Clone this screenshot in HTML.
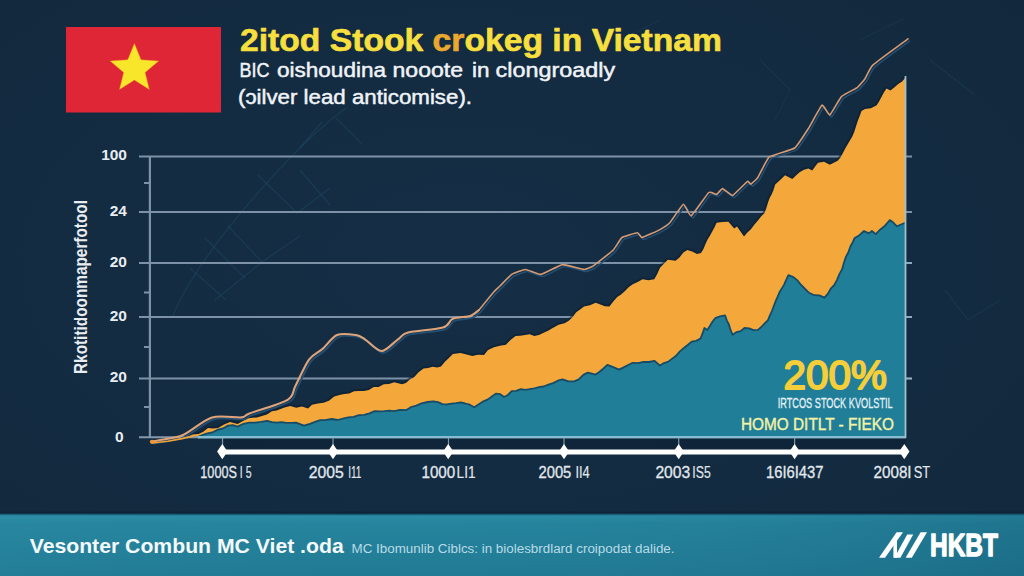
<!DOCTYPE html>
<html>
<head>
<meta charset="utf-8">
<title>Stock growth in Vietnam</title>
<style>
  html, body { margin: 0; padding: 0; }
  body { width: 1024px; height: 576px; overflow: hidden; background: #132a3f; font-family: "Liberation Sans", sans-serif; }
  svg { display: block; position: absolute; left: 0; top: 0; }
  text { font-family: "Liberation Sans", sans-serif; }
</style>
</head>
<body>
<svg width="1024" height="576" viewBox="0 0 1024 576">
  <defs>
    <radialGradient id="bg" cx="45%" cy="45%" r="80%">
      <stop offset="0" stop-color="#152e45"/>
      <stop offset="0.6" stop-color="#132b40"/>
      <stop offset="1" stop-color="#12283c"/>
    </radialGradient>
    <linearGradient id="bandH" x1="0" y1="0" x2="1" y2="0">
      <stop offset="0" stop-color="#3aa0b8" stop-opacity="0.10"/>
      <stop offset="0.35" stop-color="#2b8ba3" stop-opacity="0"/>
      <stop offset="1" stop-color="#0f4f6a" stop-opacity="0.30"/>
    </linearGradient>
    <linearGradient id="bandEdge" x1="0" y1="0" x2="0" y2="1">
      <stop offset="0" stop-color="#0d2135" stop-opacity="0"/>
      <stop offset="0.45" stop-color="#0d2135" stop-opacity="0.9"/>
      <stop offset="0.7" stop-color="#185570"/>
      <stop offset="1" stop-color="#2a8da6"/>
    </linearGradient>
    <linearGradient id="band" x1="0" y1="0" x2="0" y2="1">
      <stop offset="0" stop-color="#2a8da6"/>
      <stop offset="0.12" stop-color="#26849d"/>
      <stop offset="1" stop-color="#217a94"/>
    </linearGradient>
  </defs>

  <!-- background -->
  <rect x="0" y="0" width="1024" height="576" fill="url(#bg)"/>

  <!-- faint background texture -->
  <g id="texture" fill="none" stroke="#245a78" stroke-opacity="0.3" stroke-width="1.3">
    <path d="M172,318 C190,272 240,210 290,158 C310,137 330,120 346,108"/>
    <path d="M300,148 L322,122 M336,118 L362,144"/>
    <path d="M258,175 L296,212 M300,170 L330,205 M330,188 L296,214"/>
    <path d="M205,238 L245,278 M228,226 L262,262 M262,262 L300,236"/>
    <path d="M190,268 L226,300 M215,300 L262,262"/>
    <path d="M860,40 L905,18 M930,60 L975,95 M945,290 L968,320 L1000,300" stroke-opacity="0.22"/>
    <path d="M760,60 L790,90 L775,120 M620,40 L660,20" stroke-opacity="0.18"/>
  </g>

  <!-- flag -->
  <g id="flag">
    <rect x="66" y="27" width="155" height="85.5" fill="#df2637"/>
    <polygon id="star" stroke="#f0a020" stroke-opacity="0.5" stroke-width="0.8" fill="#f8e62a" points="134.4,43.5 141.0,59.8 158.6,61.1 145.1,72.4 149.3,89.4 134.4,80.1 119.5,89.4 123.7,72.4 110.2,61.1 127.8,59.8"/>
  </g>

  <!-- grid -->
  <g id="grid" stroke="#7d92a6" stroke-width="2" fill="none">
    <line x1="139" y1="156.5" x2="912" y2="156.5"/>
    <line x1="139" y1="212" x2="912" y2="212"/>
    <line x1="139" y1="263" x2="912" y2="263"/>
    <line x1="139" y1="317" x2="912" y2="317"/>
    <line x1="139" y1="378.5" x2="912" y2="378.5"/>
    <line x1="149.9" y1="156" x2="149.9" y2="438" stroke-width="2.2"/>
    <line x1="144" y1="183" x2="150" y2="183"/>
    <line x1="144" y1="292.5" x2="150" y2="292.5"/>
    <line x1="144" y1="347" x2="150" y2="347"/>
    <line x1="144" y1="407" x2="150" y2="407"/>
  </g>

  <!-- orange area -->
  <path id="orangeEdge" fill="none" stroke="#0d1e30" stroke-opacity="0.55" stroke-width="4" stroke-linejoin="round" d="M187.0,437.0 L192.8,434.6 L198.6,434.0 L203.3,431.8 L208.0,428.0 L213.0,428.6 L218.0,428.0 L224.0,424.4 L230.0,422.0 L237.6,424.0 L242.5,421.2 L247.4,418.4 L252.2,417.8 L257.0,417.4 L261.9,416.0 L266.9,414.6 L271.8,411.3 L276.7,410.5 L284.5,407.6 L290.3,406.1 L296.2,407.7 L302.0,406.6 L308.0,408.6 L312.0,404.7 L317.8,403.5 L323.6,402.7 L328.9,400.8 L334.2,396.4 L339.5,395.0 L344.4,393.9 L349.2,393.5 L354.1,391.3 L359.0,391.0 L363.9,391.1 L368.8,390.0 L373.7,386.9 L378.6,387.0 L383.8,384.3 L389.0,384.0 L394.2,382.3 L402.0,384.2 L405.9,383.0 L409.8,379.4 L413.8,377.4 L418.6,372.3 L423.5,368.6 L428.1,368.1 L432.6,366.8 L437.2,367.6 L441.0,366.6 L444.9,361.7 L448.9,358.1 L452.8,354.0 L460.6,353.0 L466.5,354.4 L472.3,355.9 L478.1,354.8 L484.0,354.9 L488.0,350.0 L494.0,347.2 L500.0,345.7 L505.9,344.7 L510.8,339.7 L515.6,336.0 L520.3,335.7 L525.0,335.1 L529.6,334.3 L534.3,336.0 L539.0,335.0 L543.6,332.8 L548.1,330.7 L552.7,328.0 L558.6,324.8 L564.5,323.2 L568.4,321.1 L572.3,317.4 L576.2,312.3 L580.1,309.5 L584.0,306.6 L589.9,305.2 L595.7,302.7 L600.3,304.5 L604.8,306.3 L609.4,306.6 L613.3,301.6 L617.2,296.9 L621.1,294.5 L625.0,291.0 L628.9,286.9 L632.8,284.2 L637.7,282.0 L642.6,279.3 L648.5,280.2 L654.3,279.3 L657.1,274.3 L660.0,267.7 L663.9,263.8 L667.8,259.8 L675.6,260.8 L679.5,257.4 L683.4,252.5 L687.3,250.0 L692.1,251.4 L697.0,254.0 L701.0,253.0 L703.2,249.4 L705.5,244.1 L707.7,239.2 L709.9,235.8 L712.1,231.8 L714.4,227.4 L716.6,222.7 L722.5,221.9 L728.4,221.8 L734.2,228.6 L737.0,226.6 L740.5,231.4 L744.0,236.4 L747.4,232.5 L750.9,229.3 L754.3,224.8 L757.7,220.8 L761.1,216.6 L764.5,213.0 L766.3,208.2 L768.1,202.3 L769.9,197.6 L771.6,194.4 L773.4,190.3 L775.2,184.4 L780.1,180.0 L785.0,175.2 L792.3,179.0 L796.0,175.4 L799.6,172.3 L804.0,169.7 L808.4,168.6 L812.3,170.5 L815.1,166.6 L818.0,162.7 L824.0,161.8 L829.8,164.7 L837.7,160.8 L840.3,157.7 L842.9,152.9 L845.5,148.0 L848.9,142.3 L852.3,136.4 L854.2,131.9 L856.2,125.7 L858.0,120.2 L859.7,115.9 L861.5,111.0 L865.0,109.0 L870.9,108.2 L876.7,105.2 L879.2,101.2 L881.6,96.8 L884.0,92.2 L886.5,88.6 L890.4,90.5 L894.3,87.6 L898.2,84.1 L902.1,81.6 L906.0,76.9"/>
  <path id="orange" fill="#f4a83c" d="M187.0,437.0 L192.8,434.6 L198.6,434.0 L203.3,431.8 L208.0,428.0 L213.0,428.6 L218.0,428.0 L224.0,424.4 L230.0,422.0 L237.6,424.0 L242.5,421.2 L247.4,418.4 L252.2,417.8 L257.0,417.4 L261.9,416.0 L266.9,414.6 L271.8,411.3 L276.7,410.5 L284.5,407.6 L290.3,406.1 L296.2,407.7 L302.0,406.6 L308.0,408.6 L312.0,404.7 L317.8,403.5 L323.6,402.7 L328.9,400.8 L334.2,396.4 L339.5,395.0 L344.4,393.9 L349.2,393.5 L354.1,391.3 L359.0,391.0 L363.9,391.1 L368.8,390.0 L373.7,386.9 L378.6,387.0 L383.8,384.3 L389.0,384.0 L394.2,382.3 L402.0,384.2 L405.9,383.0 L409.8,379.4 L413.8,377.4 L418.6,372.3 L423.5,368.6 L428.1,368.1 L432.6,366.8 L437.2,367.6 L441.0,366.6 L444.9,361.7 L448.9,358.1 L452.8,354.0 L460.6,353.0 L466.5,354.4 L472.3,355.9 L478.1,354.8 L484.0,354.9 L488.0,350.0 L494.0,347.2 L500.0,345.7 L505.9,344.7 L510.8,339.7 L515.6,336.0 L520.3,335.7 L525.0,335.1 L529.6,334.3 L534.3,336.0 L539.0,335.0 L543.6,332.8 L548.1,330.7 L552.7,328.0 L558.6,324.8 L564.5,323.2 L568.4,321.1 L572.3,317.4 L576.2,312.3 L580.1,309.5 L584.0,306.6 L589.9,305.2 L595.7,302.7 L600.3,304.5 L604.8,306.3 L609.4,306.6 L613.3,301.6 L617.2,296.9 L621.1,294.5 L625.0,291.0 L628.9,286.9 L632.8,284.2 L637.7,282.0 L642.6,279.3 L648.5,280.2 L654.3,279.3 L657.1,274.3 L660.0,267.7 L663.9,263.8 L667.8,259.8 L675.6,260.8 L679.5,257.4 L683.4,252.5 L687.3,250.0 L692.1,251.4 L697.0,254.0 L701.0,253.0 L703.2,249.4 L705.5,244.1 L707.7,239.2 L709.9,235.8 L712.1,231.8 L714.4,227.4 L716.6,222.7 L722.5,221.9 L728.4,221.8 L734.2,228.6 L737.0,226.6 L740.5,231.4 L744.0,236.4 L747.4,232.5 L750.9,229.3 L754.3,224.8 L757.7,220.8 L761.1,216.6 L764.5,213.0 L766.3,208.2 L768.1,202.3 L769.9,197.6 L771.6,194.4 L773.4,190.3 L775.2,184.4 L780.1,180.0 L785.0,175.2 L792.3,179.0 L796.0,175.4 L799.6,172.3 L804.0,169.7 L808.4,168.6 L812.3,170.5 L815.1,166.6 L818.0,162.7 L824.0,161.8 L829.8,164.7 L837.7,160.8 L840.3,157.7 L842.9,152.9 L845.5,148.0 L848.9,142.3 L852.3,136.4 L854.2,131.9 L856.2,125.7 L858.0,120.2 L859.7,115.9 L861.5,111.0 L865.0,109.0 L870.9,108.2 L876.7,105.2 L879.2,101.2 L881.6,96.8 L884.0,92.2 L886.5,88.6 L890.4,90.5 L894.3,87.6 L898.2,84.1 L902.1,81.6 L906.0,76.9 L906,437.5 Z"/>


  <!-- teal area -->
  <path id="teal" fill="#207e98" d="M198.6,437.0 L206.4,434.0 L212.2,432.9 L218.0,430.0 L223.0,428.9 L228.0,426.0 L232.8,425.6 L237.6,427.0 L243.5,424.2 L249.4,423.0 L255.3,423.1 L261.1,422.3 L267.0,421.3 L271.9,422.5 L276.7,423.0 L281.5,422.6 L286.4,423.2 L291.2,423.2 L296.0,423.0 L304.0,426.0 L309.9,424.2 L315.8,422.0 L320.4,420.6 L325.0,420.5 L331.7,419.4 L337.6,420.4 L343.0,419.0 L348.3,417.7 L353.6,417.2 L359.0,415.5 L364.2,415.2 L369.5,413.8 L374.7,411.6 L379.6,411.7 L384.4,411.5 L389.3,411.1 L394.2,411.6 L400.1,410.2 L406.0,410.6 L411.2,407.4 L416.4,406.0 L421.6,403.8 L427.5,402.4 L433.3,401.8 L437.9,402.5 L442.4,404.5 L447.0,404.7 L451.5,404.1 L456.1,403.6 L460.6,402.8 L465.2,403.9 L469.7,405.1 L474.3,407.7 L478.9,404.7 L483.4,401.7 L488.0,399.8 L491.9,396.9 L495.8,394.0 L500.0,394.5 L504.0,397.4 L507.9,395.4 L511.7,391.5 L516.2,391.2 L520.8,389.6 L525.4,390.3 L529.9,389.5 L534.5,388.7 L539.0,387.6 L543.7,386.9 L548.4,385.0 L553.1,383.5 L557.8,381.1 L562.5,379.8 L568.4,381.8 L574.2,381.8 L578.8,379.8 L583.3,375.3 L587.9,373.0 L595.7,375.0 L599.6,372.2 L603.5,368.9 L607.4,365.2 L613.2,367.5 L619.0,370.0 L623.6,367.8 L628.2,365.4 L632.8,363.2 L638.2,363.6 L643.5,362.2 L648.9,362.4 L654.3,361.2 L660.0,366.0 L664.0,363.5 L667.9,362.3 L671.9,359.3 L675.8,356.5 L679.7,352.1 L683.6,348.6 L687.7,345.4 L691.7,342.0 L696.1,341.3 L700.5,339.0 L702.5,334.1 L704.4,328.4 L707.3,330.3 L709.9,326.4 L712.6,321.9 L715.2,318.6 L720.1,316.8 L725.0,315.7 L726.9,321.0 L728.9,324.8 L730.8,331.1 L732.7,335.2 L736.6,332.5 L740.6,331.5 L744.5,328.4 L749.0,328.7 L753.5,330.6 L758.0,330.3 L761.3,327.4 L764.7,323.8 L768.0,320.5 L769.9,315.8 L771.9,311.4 L773.8,306.6 L775.8,301.3 L777.7,297.0 L779.8,292.1 L782.0,288.5 L784.1,285.0 L786.3,280.1 L788.4,275.6 L792.8,277.2 L797.2,280.5 L801.1,285.4 L805.1,289.4 L809.0,293.2 L814.2,295.6 L819.3,295.8 L824.5,298.0 L827.8,294.3 L831.0,288.7 L834.3,285.4 L836.9,280.5 L839.4,274.5 L842.0,269.8 L844.0,262.9 L846.0,257.0 L848.2,253.1 L850.4,246.9 L852.5,243.1 L854.7,238.4 L859.4,235.6 L864.0,231.4 L868.8,233.8 L871.9,231.4 L875.8,234.5 L880.1,230.1 L884.4,226.7 L889.8,220.5 L893.3,223.0 L896.9,226.7 L904.0,223.6 L906.0,223.6 L906,437.5 Z"/>

  <path id="tealEdge" fill="none" stroke="#134b69" stroke-width="1.8" stroke-linejoin="round" transform="translate(0,-0.4)" d="M198.6,437.0 L206.4,434.0 L212.2,432.9 L218.0,430.0 L223.0,428.9 L228.0,426.0 L232.8,425.6 L237.6,427.0 L243.5,424.2 L249.4,423.0 L255.3,423.1 L261.1,422.3 L267.0,421.3 L271.9,422.5 L276.7,423.0 L281.5,422.6 L286.4,423.2 L291.2,423.2 L296.0,423.0 L304.0,426.0 L309.9,424.2 L315.8,422.0 L320.4,420.6 L325.0,420.5 L331.7,419.4 L337.6,420.4 L343.0,419.0 L348.3,417.7 L353.6,417.2 L359.0,415.5 L364.2,415.2 L369.5,413.8 L374.7,411.6 L379.6,411.7 L384.4,411.5 L389.3,411.1 L394.2,411.6 L400.1,410.2 L406.0,410.6 L411.2,407.4 L416.4,406.0 L421.6,403.8 L427.5,402.4 L433.3,401.8 L437.9,402.5 L442.4,404.5 L447.0,404.7 L451.5,404.1 L456.1,403.6 L460.6,402.8 L465.2,403.9 L469.7,405.1 L474.3,407.7 L478.9,404.7 L483.4,401.7 L488.0,399.8 L491.9,396.9 L495.8,394.0 L500.0,394.5 L504.0,397.4 L507.9,395.4 L511.7,391.5 L516.2,391.2 L520.8,389.6 L525.4,390.3 L529.9,389.5 L534.5,388.7 L539.0,387.6 L543.7,386.9 L548.4,385.0 L553.1,383.5 L557.8,381.1 L562.5,379.8 L568.4,381.8 L574.2,381.8 L578.8,379.8 L583.3,375.3 L587.9,373.0 L595.7,375.0 L599.6,372.2 L603.5,368.9 L607.4,365.2 L613.2,367.5 L619.0,370.0 L623.6,367.8 L628.2,365.4 L632.8,363.2 L638.2,363.6 L643.5,362.2 L648.9,362.4 L654.3,361.2 L660.0,366.0 L664.0,363.5 L667.9,362.3 L671.9,359.3 L675.8,356.5 L679.7,352.1 L683.6,348.6 L687.7,345.4 L691.7,342.0 L696.1,341.3 L700.5,339.0 L702.5,334.1 L704.4,328.4 L707.3,330.3 L709.9,326.4 L712.6,321.9 L715.2,318.6 L720.1,316.8 L725.0,315.7 L726.9,321.0 L728.9,324.8 L730.8,331.1 L732.7,335.2 L736.6,332.5 L740.6,331.5 L744.5,328.4 L749.0,328.7 L753.5,330.6 L758.0,330.3 L761.3,327.4 L764.7,323.8 L768.0,320.5 L769.9,315.8 L771.9,311.4 L773.8,306.6 L775.8,301.3 L777.7,297.0 L779.8,292.1 L782.0,288.5 L784.1,285.0 L786.3,280.1 L788.4,275.6 L792.8,277.2 L797.2,280.5 L801.1,285.4 L805.1,289.4 L809.0,293.2 L814.2,295.6 L819.3,295.8 L824.5,298.0 L827.8,294.3 L831.0,288.7 L834.3,285.4 L836.9,280.5 L839.4,274.5 L842.0,269.8 L844.0,262.9 L846.0,257.0 L848.2,253.1 L850.4,246.9 L852.5,243.1 L854.7,238.4 L859.4,235.6 L864.0,231.4 L868.8,233.8 L871.9,231.4 L875.8,234.5 L880.1,230.1 L884.4,226.7 L889.8,220.5 L893.3,223.0 L896.9,226.7 L904.0,223.6 L906.0,223.6"/>

  <!-- baseline and right axis -->
  <g stroke="#8fb3c4" stroke-width="1.6" fill="none">
    <line x1="139" y1="437.3" x2="200" y2="437.3" stroke="#8599ab" stroke-width="2"/>
    <line x1="198" y1="437.2" x2="906" y2="437.2" stroke="#86bdd0" stroke-width="2.4"/>
    <line x1="905.5" y1="76" x2="905.5" y2="438" stroke="#a3bfcc" stroke-width="1.8"/>
    <line x1="906" y1="263" x2="912" y2="263"/>
    <line x1="906" y1="317" x2="912" y2="317"/>
    <line x1="906" y1="378.5" x2="912" y2="378.5"/>
  </g>

  <!-- line series -->
  <path id="lineShadow2" fill="none" stroke="#244f73" stroke-width="1.5" stroke-linejoin="round" transform="translate(1.8,2)" d="M479.0,310.0 C479.9,308.9 492.5,293.4 493.8,292.0 C495.0,290.6 499.0,287.0 500.0,286.0 C501.0,285.0 510.2,275.4 511.7,274.4 C513.2,273.4 523.7,269.5 525.4,269.5 C527.1,269.5 538.8,274.7 541.0,274.4 C543.2,274.1 560.0,264.9 562.5,264.6 C565.0,264.3 582.2,269.4 584.0,269.5 C585.8,269.6 592.0,266.7 593.8,265.6 C595.5,264.5 611.7,251.6 613.3,250.0 C614.9,248.4 620.6,238.5 622.0,237.5 C623.4,236.5 636.3,232.8 637.5,232.8 C638.7,232.8 640.7,237.7 642.0,237.5 C643.3,237.3 658.4,230.5 660.0,229.6 C661.6,228.7 668.4,224.2 669.8,222.7 C671.2,221.2 682.1,204.6 683.4,204.2 C684.7,203.8 689.8,216.6 691.2,215.9 C692.7,215.2 707.3,193.8 708.8,192.5 C710.3,191.2 715.8,194.6 716.6,194.4 C717.4,194.2 721.6,188.5 722.5,188.6 C723.4,188.7 731.3,195.3 732.3,195.4 C733.3,195.5 738.1,190.3 739.0,189.5 C739.9,188.7 747.1,181.6 747.8,181.3 C748.5,181.0 750.1,184.4 750.7,184.2 C751.3,184.0 756.6,179.4 757.7,177.8 C758.8,176.2 767.1,158.6 769.3,156.9 C771.5,155.2 792.4,149.7 794.7,148.0 C797.0,146.3 806.8,131.0 808.4,128.5 C810.0,126.0 820.8,106.0 822.0,105.2 C823.2,104.4 828.7,115.5 829.8,115.0 C830.9,114.5 840.0,98.0 841.6,96.4 C843.2,94.8 855.8,88.6 857.2,87.6 C858.6,86.6 864.1,80.1 865.0,78.8 C865.9,77.5 870.3,67.5 872.8,65.2 C875.3,62.9 905.9,40.3 908.0,38.8"/>
  <path id="line2" fill="none" stroke="#d69b72" stroke-width="1.6" stroke-linecap="round" stroke-linejoin="round" d="M479.0,310.0 C479.9,308.9 492.5,293.4 493.8,292.0 C495.0,290.6 499.0,287.0 500.0,286.0 C501.0,285.0 510.2,275.4 511.7,274.4 C513.2,273.4 523.7,269.5 525.4,269.5 C527.1,269.5 538.8,274.7 541.0,274.4 C543.2,274.1 560.0,264.9 562.5,264.6 C565.0,264.3 582.2,269.4 584.0,269.5 C585.8,269.6 592.0,266.7 593.8,265.6 C595.5,264.5 611.7,251.6 613.3,250.0 C614.9,248.4 620.6,238.5 622.0,237.5 C623.4,236.5 636.3,232.8 637.5,232.8 C638.7,232.8 640.7,237.7 642.0,237.5 C643.3,237.3 658.4,230.5 660.0,229.6 C661.6,228.7 668.4,224.2 669.8,222.7 C671.2,221.2 682.1,204.6 683.4,204.2 C684.7,203.8 689.8,216.6 691.2,215.9 C692.7,215.2 707.3,193.8 708.8,192.5 C710.3,191.2 715.8,194.6 716.6,194.4 C717.4,194.2 721.6,188.5 722.5,188.6 C723.4,188.7 731.3,195.3 732.3,195.4 C733.3,195.5 738.1,190.3 739.0,189.5 C739.9,188.7 747.1,181.6 747.8,181.3 C748.5,181.0 750.1,184.4 750.7,184.2 C751.3,184.0 756.6,179.4 757.7,177.8 C758.8,176.2 767.1,158.6 769.3,156.9 C771.5,155.2 792.4,149.7 794.7,148.0 C797.0,146.3 806.8,131.0 808.4,128.5 C810.0,126.0 820.8,106.0 822.0,105.2 C823.2,104.4 828.7,115.5 829.8,115.0 C830.9,114.5 840.0,98.0 841.6,96.4 C843.2,94.8 855.8,88.6 857.2,87.6 C858.6,86.6 864.1,80.1 865.0,78.8 C865.9,77.5 870.3,67.5 872.8,65.2 C875.3,62.9 905.9,40.3 908.0,38.8"/>
  <path id="lineShadow" fill="none" stroke="#244f73" stroke-width="1.8" stroke-linejoin="round" transform="translate(1.8,2)" d="M151.7,441.8 C152.9,441.5 155.3,441.0 160.0,440.0 C164.7,439.0 175.2,438.4 183.0,435.0 C190.8,431.6 203.2,420.0 212.0,417.4 C220.8,414.8 235.9,418.0 241.5,417.4 C247.1,416.8 242.5,416.1 249.4,413.5 C256.3,410.9 280.7,403.9 287.6,399.8 C294.5,395.7 292.2,392.0 295.4,386.0 C298.6,380.0 304.9,365.2 309.0,359.6 C313.1,354.0 318.5,352.5 322.7,348.8 C326.9,345.1 332.0,337.1 337.0,335.0 C342.0,332.9 351.8,334.4 356.0,335.0 C360.2,335.6 361.2,336.9 365.0,339.3 C368.8,341.7 376.6,351.0 381.5,351.0 C386.4,351.0 394.0,342.1 398.0,339.3 C402.0,336.5 401.2,334.3 408.0,332.5 C414.8,330.7 436.3,329.7 443.0,327.6 C449.7,325.5 448.7,320.6 452.8,318.8 C456.9,317.0 466.5,317.2 470.4,315.9 C474.3,314.6 477.7,310.9 479.0,310.0"/>
  <path id="line" fill="none" stroke="#e0a47a" stroke-width="2.1" stroke-linecap="round" stroke-linejoin="round" d="M151.7,441.8 C152.9,441.5 155.3,441.0 160.0,440.0 C164.7,439.0 175.2,438.4 183.0,435.0 C190.8,431.6 203.2,420.0 212.0,417.4 C220.8,414.8 235.9,418.0 241.5,417.4 C247.1,416.8 242.5,416.1 249.4,413.5 C256.3,410.9 280.7,403.9 287.6,399.8 C294.5,395.7 292.2,392.0 295.4,386.0 C298.6,380.0 304.9,365.2 309.0,359.6 C313.1,354.0 318.5,352.5 322.7,348.8 C326.9,345.1 332.0,337.1 337.0,335.0 C342.0,332.9 351.8,334.4 356.0,335.0 C360.2,335.6 361.2,336.9 365.0,339.3 C368.8,341.7 376.6,351.0 381.5,351.0 C386.4,351.0 394.0,342.1 398.0,339.3 C402.0,336.5 401.2,334.3 408.0,332.5 C414.8,330.7 436.3,329.7 443.0,327.6 C449.7,325.5 448.7,320.6 452.8,318.8 C456.9,317.0 466.5,317.2 470.4,315.9 C474.3,314.6 477.7,310.9 479.0,310.0"/>

  <path d="M152,443 L168,441.2 L182,438.6 L192,436.4" fill="none" stroke="#f0a233" stroke-width="1.6" stroke-linecap="round"/>
  <ellipse cx="152.2" cy="441.8" rx="2.4" ry="2.1" fill="#f0963a"/>

  <!-- timeline -->
  <rect x="224" y="438.6" width="682" height="10.6" fill="#0c1d30" fill-opacity="0.45"/>
  <g id="timeline">
    <g stroke="#7f95a6" stroke-width="1.2">
      <line x1="222.5" y1="438" x2="222.5" y2="450"/>
      <line x1="333" y1="438" x2="333" y2="450"/>
      <line x1="448.5" y1="438" x2="448.5" y2="450"/>
      <line x1="564" y1="438" x2="564" y2="450"/>
      <line x1="678.7" y1="438" x2="678.7" y2="450"/>
      <line x1="794.6" y1="438" x2="794.6" y2="450"/>
    </g>
    <line x1="222" y1="452" x2="904" y2="452" stroke="#ffffff" stroke-width="5.2"/>
    <g fill="#ffffff">
      <polygon points="217.10000000000002,451.6 222.3,444 227.5,451.6 222.3,459.2"/>
      <polygon points="327.8,451.6 333,444 338.2,451.6 333,459.2"/>
      <polygon points="443.0,451.6 448.2,444 453.4,451.6 448.2,459.2"/>
      <polygon points="558.8,451.6 564,444 569.2,451.6 564,459.2"/>
      <polygon points="673.5,451.6 678.7,444 683.9000000000001,451.6 678.7,459.2"/>
      <polygon points="789.4,451.6 794.6,444 799.8000000000001,451.6 794.6,459.2"/>
      <polygon points="899.0999999999999,451.6 904.3,444 909.5,451.6 904.3,459.2"/>
    </g>
  </g>

  <!-- bottom band -->
  <rect x="0" y="510.5" width="1024" height="5.5" fill="url(#bandEdge)"/>
  <rect x="0" y="515.8" width="1024" height="60.2" fill="url(#band)"/>
  <rect x="0" y="514" width="1024" height="62" fill="url(#bandH)"/>

  <!-- TEXT -->
  <g id="texts">
    <text x="240" y="51" font-size="31" font-weight="bold" fill="#f7df3e" stroke="#f7df3e" stroke-width="0.6" stroke-linejoin="round" textLength="482" lengthAdjust="spacingAndGlyphs">2itod Stook <tspan fill="#eaa92e" stroke="#eaa92e">cr</tspan>okeg in Vietnam</text>
    <g font-size="19.5" fill="#f0f3f7" stroke="#f0f3f7" stroke-width="0.45">
      <text x="239.4" y="77" textLength="30" lengthAdjust="spacingAndGlyphs">BIC</text>
      <text x="277" y="77" textLength="109" lengthAdjust="spacingAndGlyphs">oishoudina</text>
      <text x="392.5" y="77" textLength="70.5" lengthAdjust="spacingAndGlyphs">nooote</text>
      <text x="472" y="77" textLength="17.5" lengthAdjust="spacingAndGlyphs">in</text>
      <text x="495.6" y="77" textLength="119.5" lengthAdjust="spacingAndGlyphs">clongroadly</text>
    </g>
    <text x="238" y="103.7" font-size="19.5" fill="#f0f3f7" stroke="#f0f3f7" stroke-width="0.45" textLength="234" lengthAdjust="spacingAndGlyphs">(ɔilver lead anticomise).</text>

    <g font-size="15.5" font-weight="bold" fill="#e8edf2" text-anchor="end">
      <text x="127" y="159.8">100</text>
      <text x="127" y="215.6">24</text>
      <text x="127" y="266.6">20</text>
      <text x="127" y="321">20</text>
      <text x="127" y="382.4">20</text>
      <text x="123.5" y="442">0</text>
    </g>
    <text transform="translate(86.8,374) rotate(-90)" font-size="17.5" font-weight="bold" fill="#e8edf2" textLength="174" lengthAdjust="spacingAndGlyphs">Rkotitidoonmaperfotool</text>

    <g id="xlabels" font-size="16" fill="#e2e8ee">
      <text x="200.3" y="478.3" stroke="#e2e8ee" stroke-width="0.3" textLength="36.6" lengthAdjust="spacingAndGlyphs">1000S</text>
      <text x="239.8" y="478.3" stroke="#e2e8ee" stroke-width="0.15" textLength="11.7" lengthAdjust="spacingAndGlyphs">I 5</text>
      <text x="308.7" y="478.3" stroke="#e2e8ee" stroke-width="0.3" textLength="35" lengthAdjust="spacingAndGlyphs">2005</text>
      <text x="348.2" y="478.3" stroke="#e2e8ee" stroke-width="0.15" textLength="13.2" lengthAdjust="spacingAndGlyphs">I11</text>
      <text x="421.5" y="478.3" stroke="#e2e8ee" stroke-width="0.3" textLength="33.7" lengthAdjust="spacingAndGlyphs">1000</text>
      <text x="456.6" y="478.3" stroke="#e2e8ee" stroke-width="0.15" textLength="19" lengthAdjust="spacingAndGlyphs">LI1</text>
      <text x="538.5" y="478.3" stroke="#e2e8ee" stroke-width="0.3" textLength="32.8" lengthAdjust="spacingAndGlyphs">2005</text>
      <text x="575.4" y="478.3" stroke="#e2e8ee" stroke-width="0.15" textLength="14.3" lengthAdjust="spacingAndGlyphs">II4</text>
      <text x="655.4" y="478.3" stroke="#e2e8ee" stroke-width="0.3" textLength="34.8" lengthAdjust="spacingAndGlyphs">2003</text>
      <text x="692.3" y="478.3" stroke="#e2e8ee" stroke-width="0.15" textLength="18.4" lengthAdjust="spacingAndGlyphs">IS5</text>
      <text x="766" y="478.3" stroke="#e2e8ee" stroke-width="0.3" textLength="57.5" lengthAdjust="spacingAndGlyphs">16I6I437</text>
      <text x="873.6" y="478.3" stroke="#e2e8ee" stroke-width="0.3" textLength="38" lengthAdjust="spacingAndGlyphs">2008I</text>
      <text x="913.8" y="478.3" stroke="#e2e8ee" stroke-width="0.15" textLength="16.4" lengthAdjust="spacingAndGlyphs">ST</text>
    </g>

    <text x="783.6" y="389.2" font-size="40" fill="#f5ce3a" stroke="#f5ce3a" stroke-width="1.8" stroke-linejoin="round" textLength="103.4" lengthAdjust="spacingAndGlyphs">200%</text>
    <text x="777.7" y="407.5" font-size="15" fill="#e6f2f7" stroke="#e6f2f7" stroke-width="0.3" textLength="115" lengthAdjust="spacingAndGlyphs">IRTCOS STOCK KVOLSTIL</text>
    <text x="741" y="429.5" font-size="17" fill="#f4f2a6" stroke="#f4f2a6" stroke-width="0.4" textLength="153" lengthAdjust="spacingAndGlyphs">HOMO DITLT - FIEKO</text>

    <text x="29.7" y="553.4" font-size="20.5" font-weight="bold" fill="#f4f9fb" textLength="314" lengthAdjust="spacingAndGlyphs">Vesonter Combun MC Viet .oda</text>
    <text x="351.5" y="552.8" font-size="12" fill="#b9dbe6" textLength="323" lengthAdjust="spacingAndGlyphs">MC Ibomunlib Ciblcs: in biolesbrdlard croipodat dalide.</text>

    <text x="930" y="555.7" font-size="31" font-weight="bold" fill="#ffffff" stroke="#ffffff" stroke-width="1.3" stroke-linejoin="round" textLength="68" lengthAdjust="spacingAndGlyphs">HKBT</text>
  </g>

  <!-- logo slashes -->
  <g id="logo" fill="#ffffff">
    <polygon points="879,557.8 885,557.8 903,532.3 896.6,532.3"/>
    <polygon points="894.4,557.8 900.4,557.8 913.2,534.6 907.2,534.6"/>
    <rect x="893.4" y="540.5" width="3.6" height="17.3"/>
    <polygon points="905.6,557.8 911.8,557.8 927,532.3 920.6,532.3"/>
  </g>
</svg>
</body>
</html>
